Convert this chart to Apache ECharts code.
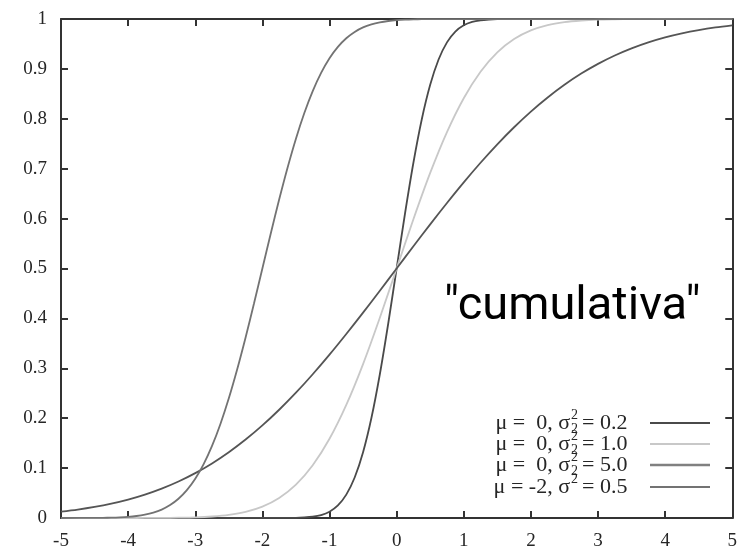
<!DOCTYPE html>
<html>
<head>
<meta charset="utf-8">
<script src="https://cdn.jsdelivr.net/npm/echarts@6/dist/echarts.min.js"></script>
<style>
  html, body { margin: 0; padding: 0; background: #fff; }
  #chart { width: 740px; height: 552px; }
</style>
</head>
<body>
<div id="chart"></div>
<script>
// Normal cumulative distribution curves, values sampled along x.
const xsA = [-5, -1.5, -1.375, -1.25, -1.125, -1, -0.875, -0.75, -0.625, -0.5, -0.375, -0.25, -0.125, 0,
  0.125, 0.25, 0.375, 0.5, 0.625, 0.75, 0.875, 1, 1.125, 1.25, 1.375, 1.5, 5];
const cdfA = [0, 0.0004, 0.0011, 0.0026, 0.0059, 0.0127, 0.0252, 0.0468, 0.0811, 0.1318, 0.2008, 0.2881, 0.3898, 0.5,
  0.6102, 0.7119, 0.7992, 0.8682, 0.9189, 0.9532, 0.9748, 0.9873, 0.9941, 0.9974, 0.9989, 0.9996, 1];

const xsBC = [-5, -4.75, -4.5, -4.25, -4, -3.75, -3.5, -3.25, -3, -2.75, -2.5, -2.25, -2, -1.75, -1.5, -1.25, -1, -0.75, -0.5, -0.25, 0,
  0.25, 0.5, 0.75, 1, 1.25, 1.5, 1.75, 2, 2.25, 2.5, 2.75, 3, 3.25, 3.5, 3.75, 4, 4.25, 4.5, 4.75, 5];
const cdfB = [0, 0, 0, 0, 0.0000, 0.0001, 0.0002, 0.0006, 0.0013, 0.003, 0.0062, 0.0122, 0.0228, 0.0401, 0.0668, 0.1056, 0.1587, 0.2266, 0.3085, 0.4013, 0.5,
  0.5987, 0.6915, 0.7734, 0.8413, 0.8944, 0.9332, 0.9599, 0.9772, 0.9878, 0.9938, 0.997, 0.9987, 0.9994, 0.9998, 0.9999, 1, 1, 1, 1, 1];
const cdfC = [0.0127, 0.0168, 0.0221, 0.0287, 0.0368, 0.0468, 0.0588, 0.0731, 0.0899, 0.1094, 0.1318, 0.1572, 0.1855, 0.2169, 0.2511, 0.2881, 0.3274, 0.3687, 0.4115, 0.4555, 0.5,
  0.5445, 0.5885, 0.6313, 0.6726, 0.7119, 0.7489, 0.7831, 0.8145, 0.8428, 0.8682, 0.8906, 0.9101, 0.9269, 0.9412, 0.9532, 0.9632, 0.9713, 0.9779, 0.9832, 0.9873];

const xsD = [-5, -4.5, -4.375, -4.25, -4.125, -4, -3.875, -3.75, -3.625, -3.5, -3.375, -3.25, -3.125, -3, -2.875, -2.75, -2.625, -2.5, -2.375, -2.25, -2.125, -2,
  -1.875, -1.75, -1.625, -1.5, -1.375, -1.25, -1.125, -1, -0.875, -0.75, -0.625, -0.5, -0.375, -0.25, -0.125, 0, 0.125, 0.25, 0.375, 0.5, 5];
const cdfD = [0, 0.0002, 0.0004, 0.0007, 0.0013, 0.0023, 0.004, 0.0067, 0.0108, 0.0169, 0.0259, 0.0385, 0.0558, 0.0786, 0.108, 0.1444, 0.1884, 0.2398, 0.298, 0.3618, 0.4298, 0.5,
  0.5702, 0.6382, 0.702, 0.7602, 0.8116, 0.8556, 0.892, 0.9214, 0.9442, 0.9615, 0.9741, 0.9831, 0.9892, 0.9933, 0.996, 0.9977, 0.9987, 0.9993, 0.9996, 0.9998, 1];

const muLabels = ['\u03bc =  0, \u03c3', '\u03bc =  0, \u03c3', '\u03bc =  0, \u03c3', '\u03bc = -2, \u03c3'];
const varLabels = ['= 0.2', '= 1.0', '= 5.0', '= 0.5'];
const subShown = [true, true, true, false];
const lineColors = ['#4a4a4a', '#c8c8c8', '#555555', '#737373'];
const legendLineColors = ['#4a4a4a', '#c8c8c8', '#808080', '#737373'];

const xTicks = [-5, -4, -3, -2, -1, 0, 1, 2, 3, 4, 5];

const zip = (xs, ys) => xs.map((x, i) => [x, ys[i]]);
const curves = [zip(xsA, cdfA), zip(xsBC, cdfB), zip(xsBC, cdfC), zip(xsD, cdfD)];

const serif = '"Liberation Serif", "DejaVu Serif", serif';
const axisCol = '#333';
const textCol = '#262626';

const baseAxis = {
  type: 'value',
  axisLine: { show: true, onZero: false, lineStyle: { color: axisCol, width: 2 } },
  axisTick: { show: true, inside: true, length: 7, lineStyle: { color: axisCol, width: 2 } },
  splitLine: { show: false }
};

const chart = echarts.init(document.getElementById('chart'), null, { renderer: 'canvas' });

// Legend rows drawn as text + sample line
const legendGraphics = [];
const rowY = [423, 444, 465, 487];
const sigEnd = 570;
rowY.forEach((y, i) => {
  const font = '22px ' + serif;
  legendGraphics.push({ type: 'text', style: { text: muLabels[i], x: sigEnd, y: y, textAlign: 'right', textVerticalAlign: 'middle', font: font, fill: textCol } });
  legendGraphics.push({ type: 'text', style: { text: '2', x: sigEnd + 1, y: y - 8, textAlign: 'left', textVerticalAlign: 'middle', font: '14px ' + serif, fill: textCol } });
  if (subShown[i]) {
    legendGraphics.push({ type: 'text', style: { text: '2', x: sigEnd + 1, y: y + 6, textAlign: 'left', textVerticalAlign: 'middle', font: '14px ' + serif, fill: textCol } });
  }
  legendGraphics.push({ type: 'text', style: { text: varLabels[i], x: sigEnd + 12, y: y, textAlign: 'left', textVerticalAlign: 'middle', font: font, fill: textCol } });
  legendGraphics.push({ type: 'line', shape: { x1: 650, y1: y, x2: 710, y2: y }, style: { stroke: legendLineColors[i], lineWidth: i === 2 ? 2.4 : 1.8 } });
});

chart.setOption({
  animation: false,
  backgroundColor: '#fff',
  grid: { left: 61, right: 7, top: 19, bottom: 34, containLabel: false },
  xAxis: [
    Object.assign({}, baseAxis, {
      min: -5, max: 5, interval: 1, position: 'bottom',
      axisLabel: { show: true, margin: 14, color: textCol, fontFamily: serif, fontSize: 19,
        customValues: xTicks }
    }),
    Object.assign({}, baseAxis, {
      min: -5, max: 5, interval: 1, position: 'top',
      axisLabel: { show: false }
    })
  ],
  yAxis: [
    Object.assign({}, baseAxis, {
      min: 0, max: 1, interval: 0.1, position: 'left',
      axisLabel: { show: true, margin: 14, color: textCol, fontFamily: serif, fontSize: 19 }
    }),
    Object.assign({}, baseAxis, {
      min: 0, max: 1, interval: 0.1, position: 'right',
      axisLabel: { show: false }
    })
  ],
  series: curves.map((d, i) => ({
    type: 'line',
    data: d,
    showSymbol: false,
    smooth: 0.3,
    lineStyle: { color: lineColors[i], width: 1.8 },
    xAxisIndex: 0,
    yAxisIndex: 0
  })),
  graphic: [
    { type: 'group', children: legendGraphics },
    { type: 'text', style: { text: '"cumulativa"', x: 444, y: 284, textAlign: 'left', textVerticalAlign: 'top',
        font: '47px Roboto, "Liberation Sans", sans-serif', fill: '#000' } }
  ]
});
</script>
</body>
</html>
